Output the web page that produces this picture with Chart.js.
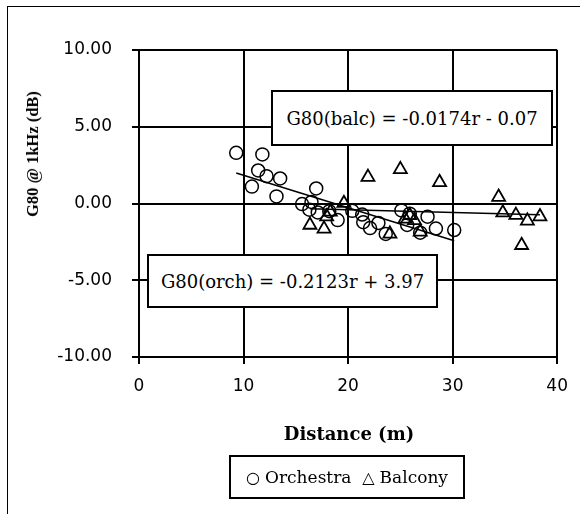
<!DOCTYPE html>
<html>
<head>
<meta charset="utf-8">
<script src="https://cdn.jsdelivr.net/npm/chart.js@4"></script>
<style>
    body { margin: 0; background: #fff; }
    #wrap { position: relative; width: 580px; height: 514px; overflow: hidden; }
    #frame { position: absolute; left: 7px; top: 6px; width: 600px; height: 600px;
             border-left: 1.5px solid #000; border-top: 1.5px solid #000; }
    canvas { position: absolute; left: 0; top: 0; }
    .eq { position: absolute; background: #fff; border: 2px solid #000; box-sizing: border-box;
          display: flex; align-items: center; justify-content: center;
          font-family: "DejaVu Serif", serif; font-size: 18px; color: #000; }
    #ytitle { position: absolute; left: 33px; top: 154px; transform: translate(-50%, -50%) rotate(-90deg);
              white-space: nowrap; font-family: "Liberation Serif", serif; font-weight: bold; font-size: 16.5px; }
    #xtitle { position: absolute; left: 349px; top: 433px; transform: translate(-50%, -50%);
              white-space: nowrap; font-family: "DejaVu Serif", serif; font-weight: bold; font-size: 18px; }
    #legend { position: absolute; left: 229px; top: 455px; width: 236px; height: 44px;
              border: 2px solid #000; box-sizing: border-box; display: flex; align-items: center;
              justify-content: center; font-family: "DejaVu Serif", serif; font-size: 17px; }
    .sym { font-family: "DejaVu Sans", sans-serif; font-size: 16px; margin: 0 5px 0 0; }
</style>
</head>
<body>
<div id="wrap">
    <div id="frame"></div>
    <canvas id="chart" width="580" height="514"></canvas>
    <div class="eq" style="left:271px; top:90px; width:282px; height:56px;">G80(balc) = -0.0174r - 0.07</div>
    <div class="eq" style="left:147px; top:254px; width:291px; height:54px;">G80(orch) = -0.2123r + 3.97</div>
    <div id="ytitle">G80 @ 1kHz (dB)</div>
    <div id="xtitle">Distance (m)</div>
    <div id="legend"><span class="sym">○</span>Orchestra&nbsp;&nbsp;<span class="sym">△</span>Balcony</div>
</div>
<script>
// values
const orchDist = [9.3, 11.8, 11.4, 12.2, 13.5, 10.8, 13.15, 16.95, 15.6, 16.5, 16.3, 17.1, 18.2, 19.0,
                  20.4, 21.35, 21.45, 22.1, 22.9, 23.6, 25.1, 25.9, 25.65, 26.9, 27.6, 28.4, 30.15];
const orchG80 = [3.3, 3.2, 2.15, 1.78, 1.63, 1.1, 0.46, 0.98, -0.04, 0.1, -0.4, -0.58, -0.5, -1.08,
                 -0.48, -0.72, -1.22, -1.6, -1.27, -1.98, -0.45, -0.66, -1.4, -1.9, -0.86, -1.63, -1.73];
const balcDist = [16.35, 17.7, 17.95, 18.3, 19.6, 21.9, 24.0, 25.0, 25.45, 25.9, 26.35, 26.9, 28.75,
                  34.4, 34.8, 36.05, 37.15, 38.35, 36.6];
const balcG80 = [-1.4, -1.65, -0.85, -0.55, 0.02, 1.72, -1.98, 2.22, -1.0, -0.78, -1.1, -1.85, 1.38,
                 0.42, -0.6, -0.76, -1.13, -0.85, -2.72];
// trend line end points
const orchTrendX = [9.3, 30.15];
const orchTrendY = [1.99, -2.43];
const balcTrendX = [16.35, 38.35];
const balcTrendY = [-0.35, -0.74];
const xTicks = [0, 10, 20, 30, 40];
const yTicks = [-10, -5, 0, 5, 10];

function toPoints(xs, ys) {
    return xs.map((x, i) => ({ x: x, y: ys[i] }));
}

const tickFont = { family: 'DejaVu Sans', size: 17 };

new Chart(document.getElementById('chart'), {
    type: 'scatter',
    data: {
        datasets: [
            {
                label: 'Orchestra',
                data: toPoints(orchDist, orchG80),
                pointStyle: 'circle',
                pointRadius: 6.5,
                borderColor: '#000',
                backgroundColor: 'rgba(0,0,0,0)',
                borderWidth: 1.5
            },
            {
                label: 'Balcony',
                data: toPoints(balcDist, balcG80),
                pointStyle: 'triangle',
                pointRadius: 7.5,
                borderColor: '#000',
                backgroundColor: 'rgba(0,0,0,0)',
                borderWidth: 1.8
            },
            {
                type: 'line',
                data: toPoints(orchTrendX, orchTrendY),
                borderColor: '#000',
                borderWidth: 1.5,
                pointRadius: 0
            },
            {
                type: 'line',
                data: toPoints(balcTrendX, balcTrendY),
                borderColor: '#000',
                borderWidth: 1.5,
                pointRadius: 0
            }
        ]
    },
    options: {
        responsive: false,
        animation: false,
        layout: { padding: { left: 0, top: 50, right: 22, bottom: 0 } },
        plugins: { legend: { display: false }, tooltip: { enabled: false } },
        scales: {
            x: {
                type: 'linear',
                min: 0,
                max: 40,
                afterBuildTicks: s => { s.ticks = xTicks.map(v => ({ value: v })); },
                afterFit: s => { s.height = 157; },
                ticks: { color: '#000', font: tickFont, padding: 12, maxRotation: 0 },
                grid: { color: '#000', lineWidth: 2, tickLength: 7 },
                border: { color: '#000', width: 2 }
            },
            y: {
                min: -10,
                max: 10,
                afterBuildTicks: s => { s.ticks = yTicks.map(v => ({ value: v })); },
                afterFit: s => { s.width = 139; },
                ticks: { color: '#000', font: tickFont, padding: 20, callback: v => v.toFixed(2) },
                grid: { color: '#000', lineWidth: 2, tickLength: 7 },
                border: { color: '#000', width: 2 }
            }
        }
    }
});
</script>
</body>
</html>
